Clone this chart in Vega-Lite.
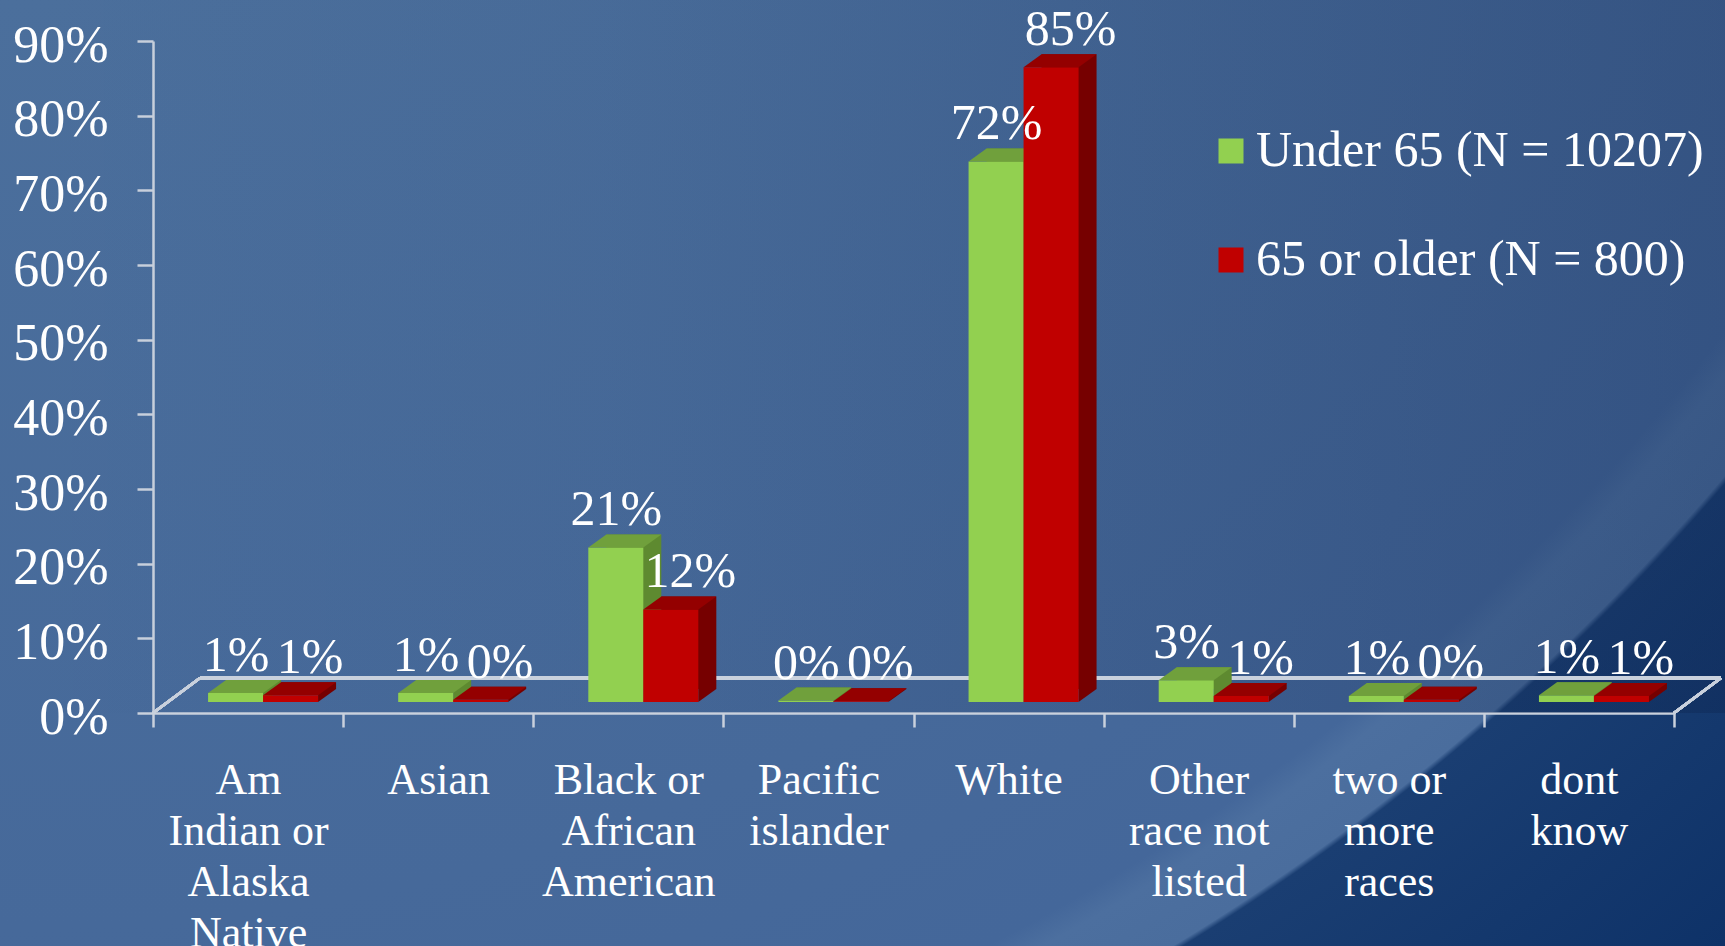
{
  "$schema": "https://vega.github.io/schema/vega-lite/v6.json",
  "width": 1725,
  "height": 946,
  "autosize": "none",
  "padding": 0,
  "background": "#44679a",
  "view": {
    "stroke": null,
    "fill": {
      "gradient": "radial", "x1": 0, "y1": -0.348, "r1": 0, "x2": 0, "y2": -0.348, "r2": 1.503,
      "stops": [
        {"offset": 0, "color": "#4d719e"},
        {"offset": 0.38, "color": "#4b6f9c"},
        {"offset": 0.74, "color": "#46699a"},
        {"offset": 0.838, "color": "#44679a"},
        {"offset": 0.848, "color": "#4c6f9f"},
        {"offset": 0.873, "color": "#4a6d9d"},
        {"offset": 0.875, "color": "#1a3e72"},
        {"offset": 1, "color": "#0e3268"}
      ]
    }
  },
  "config": {
    "view": {"stroke": null},
    "font": "Liberation Serif",
    "axisX": {
      "tickBand": "extent",
      "labelAngle": 0,
      "labelFont": "Liberation Serif",
      "labelFontSize": 44,
      "labelLineHeight": 51,
      "labelColor": "white",
      "labelBaseline": "top",
      "labelPadding": 31,
      "labelLimit": 0,
      "tickSize": 14,
      "tickWidth": 2.5,
      "tickColor": "#c9d1dd",
      "domainColor": "#c9d1dd",
      "domainWidth": 2.5,
      "grid": false,
      "offset": -233,
      "zindex": 1
    },
    "axisY": {
      "labelFont": "Liberation Serif",
      "labelFontSize": 52,
      "labelColor": "white",
      "labelPadding": 29,
      "labelOffset": 4,
      "tickSize": 16,
      "tickWidth": 2.5,
      "tickColor": "#c9d1dd",
      "domainColor": "#c9d1dd",
      "domainWidth": 2.5,
      "grid": false,
      "offset": -153,
      "zindex": 1
    },
    "legend": {
      "orient": "none",
      "legendX": 1206,
      "legendY": 126,
      "symbolType": "square",
      "symbolSize": 625,
      "symbolStrokeWidth": 0,
      "labelFontSize": 50,
      "labelFont": "Liberation Serif",
      "labelColor": "white",
      "labelLimit": 0,
      "labelOffset": 0,
      "rowPadding": 59,
      "zindex": 1
    }
  },
  "data": {
    "values": [
      {"race": "Am Indian or Alaska Native", "group": "Under 65 (N = 10207)", "pct": 0.012},
      {"race": "Am Indian or Alaska Native", "group": "65 or older (N = 800)", "pct": 0.009},
      {"race": "Asian", "group": "Under 65 (N = 10207)", "pct": 0.012},
      {"race": "Asian", "group": "65 or older (N = 800)", "pct": 0.003},
      {"race": "Black or African American", "group": "Under 65 (N = 10207)", "pct": 0.207},
      {"race": "Black or African American", "group": "65 or older (N = 800)", "pct": 0.124},
      {"race": "Pacific islander", "group": "Under 65 (N = 10207)", "pct": 0.002},
      {"race": "Pacific islander", "group": "65 or older (N = 800)", "pct": 0.001},
      {"race": "White", "group": "Under 65 (N = 10207)", "pct": 0.724},
      {"race": "White", "group": "65 or older (N = 800)", "pct": 0.85},
      {"race": "Other race not listed", "group": "Under 65 (N = 10207)", "pct": 0.029},
      {"race": "Other race not listed", "group": "65 or older (N = 800)", "pct": 0.008},
      {"race": "two or more races", "group": "Under 65 (N = 10207)", "pct": 0.008},
      {"race": "two or more races", "group": "65 or older (N = 800)", "pct": 0.003},
      {"race": "dont know", "group": "Under 65 (N = 10207)", "pct": 0.009},
      {"race": "dont know", "group": "65 or older (N = 800)", "pct": 0.008}
    ]
  },
  "layer": [
    {
      "data": {"values": [{}]},
      "mark": {
        "type": "rect",
        "fill": {
          "gradient": "linear", "x1": 0, "y1": 0, "x2": 1, "y2": 0,
          "stops": [
            {"offset": 0, "color": "rgba(10,30,70,0)"},
            {"offset": 0.35, "color": "rgba(10,30,70,0.04)"},
            {"offset": 0.6, "color": "rgba(10,30,70,0.12)"},
            {"offset": 1, "color": "rgba(10,30,70,0.28)"}
          ]
        }
      },
      "encoding": {
        "y": {"datum": 0, "type": "quantitative", "title": null},
        "y2": {"datum": 0.955}
      }
    },
    {
      "encoding": {
        "x": {
          "field": "race",
          "type": "nominal",
          "title": null,
          "scale": {
            "domain": ["Am Indian or Alaska Native", "Asian", "Black or African American", "Pacific islander", "White", "Other race not listed", "two or more races", "dont know"],
            "range": [153, 1674],
            "paddingInner": 0,
            "paddingOuter": 0
          },
          "axis": {
            "title": null,
            "labelExpr": "datum.value == 'Am Indian or Alaska Native' ? ['Am','Indian or','Alaska','Native'] : datum.value == 'Black or African American' ? ['Black or','African','American'] : datum.value == 'Pacific islander' ? ['Pacific','islander'] : datum.value == 'Other race not listed' ? ['Other','race not','listed'] : datum.value == 'two or more races' ? ['two or','more','races'] : datum.value == 'dont know' ? ['dont','know'] : datum.value"
          }
        },
        "y": {
          "field": "pct",
          "type": "quantitative",
          "title": null,
          "scale": {"domain": [0, 0.9], "range": [713, 41], "nice": false},
          "axis": {
            "title": null,
            "values": [0, 0.1, 0.2, 0.3, 0.4, 0.5, 0.6, 0.7, 0.8, 0.9],
            "format": ".0%"
          }
        }
      },
      "layer": [
        {
          "mark": {"type": "rule", "color": "#c9d1dd", "strokeWidth": 2.5, "xOffset": 47, "x2Offset": 47, "yOffset": -35},
          "encoding": {
            "x": {"datum": "Am Indian or Alaska Native", "type": "nominal", "bandPosition": 0},
            "x2": {"datum": "dont know", "bandPosition": 1},
            "y": {"datum": 0, "type": "quantitative"}
          }
        },
        {
          "mark": {"type": "rule", "color": "#c9d1dd", "strokeWidth": 2.5, "x2Offset": 47, "y2Offset": -35},
          "encoding": {
            "x": {"datum": "Am Indian or Alaska Native", "type": "nominal", "bandPosition": 0},
            "x2": {"datum": "Am Indian or Alaska Native", "bandPosition": 0},
            "y": {"datum": 0, "type": "quantitative"},
            "y2": {"datum": 0}
          }
        },
        {
          "mark": {"type": "rule", "color": "#c9d1dd", "strokeWidth": 2.5, "x2Offset": 47, "y2Offset": -35},
          "encoding": {
            "x": {"datum": "dont know", "type": "nominal", "bandPosition": 1},
            "x2": {"datum": "dont know", "bandPosition": 1},
            "y": {"datum": 0, "type": "quantitative"},
            "y2": {"datum": 0}
          }
        },
        {
          "transform": [{"filter": "datum.group == 'Under 65 (N = 10207)'"}],
          "mark": {"type": "bar", "width": 55, "color": "#5e8a30", "xOffset": 5.5, "yOffset": -24, "y2Offset": -24}
        },
        {
          "transform": [{"filter": "datum.group == 'Under 65 (N = 10207)'"}],
          "mark": {"type": "point", "shape": "M1,-0.4727L1,0L1.6545,-0.4727Z", "size": 3025, "filled": true, "opacity": 1, "strokeWidth": 0, "color": "#5e8a30", "xOffset": -12.5, "yOffset": -11},
          "encoding": {"y": {"datum": 0, "type": "quantitative"}}
        },
        {
          "transform": [{"filter": "datum.group == 'Under 65 (N = 10207)'"}],
          "mark": {"type": "bar", "width": 55, "xOffset": -12.5, "yOffset": -11, "y2Offset": -11},
          "encoding": {
            "color": {"field": "group", "type": "nominal", "title": null,
              "scale": {"domain": ["Under 65 (N = 10207)", "65 or older (N = 800)"], "range": ["#92d050", "#c00000"]}}
          }
        },
        {
          "transform": [{"filter": "datum.group == 'Under 65 (N = 10207)'"}],
          "mark": {"type": "point", "shape": "M-1,0L1,0L1.6545,-0.4727L-0.3455,-0.4727Z", "size": 3025, "filled": true, "opacity": 1, "strokeWidth": 0, "color": "#70a03c", "xOffset": -12.5, "yOffset": -11}
        },
        {
          "transform": [{"filter": "datum.group == '65 or older (N = 800)'"}],
          "mark": {"type": "bar", "width": 55, "color": "#760000", "xOffset": 60.5, "yOffset": -24, "y2Offset": -24}
        },
        {
          "transform": [{"filter": "datum.group == '65 or older (N = 800)'"}],
          "mark": {"type": "point", "shape": "M1,-0.4727L1,0L1.6545,-0.4727Z", "size": 3025, "filled": true, "opacity": 1, "strokeWidth": 0, "color": "#760000", "xOffset": 42.5, "yOffset": -11},
          "encoding": {"y": {"datum": 0, "type": "quantitative"}}
        },
        {
          "transform": [{"filter": "datum.group == '65 or older (N = 800)'"}],
          "mark": {"type": "bar", "width": 55, "xOffset": 42.5, "yOffset": -11, "y2Offset": -11},
          "encoding": {
            "color": {"field": "group", "type": "nominal", "title": null,
              "scale": {"domain": ["Under 65 (N = 10207)", "65 or older (N = 800)"], "range": ["#92d050", "#c00000"]}}
          }
        },
        {
          "transform": [{"filter": "datum.group == '65 or older (N = 800)'"}],
          "mark": {"type": "point", "shape": "M-1,0L1,0L1.6545,-0.4727L-0.3455,-0.4727Z", "size": 3025, "filled": true, "opacity": 1, "strokeWidth": 0, "color": "#940000", "xOffset": 42.5, "yOffset": -11}
        },
        {
          "transform": [{"filter": "datum.group == 'Under 65 (N = 10207)'"}],
          "mark": {"type": "text", "font": "Liberation Serif", "fontSize": 50, "color": "white", "baseline": "alphabetic", "dx": -12, "dy": -33},
          "encoding": {"text": {"field": "pct", "type": "quantitative", "format": ".0%"}}
        },
        {
          "transform": [{"filter": "datum.group == '65 or older (N = 800)'"}],
          "mark": {"type": "text", "font": "Liberation Serif", "fontSize": 50, "color": "white", "baseline": "alphabetic", "dx": 62, "dy": -33},
          "encoding": {"text": {"field": "pct", "type": "quantitative", "format": ".0%"}}
        }
      ]
    }
  ]
}
